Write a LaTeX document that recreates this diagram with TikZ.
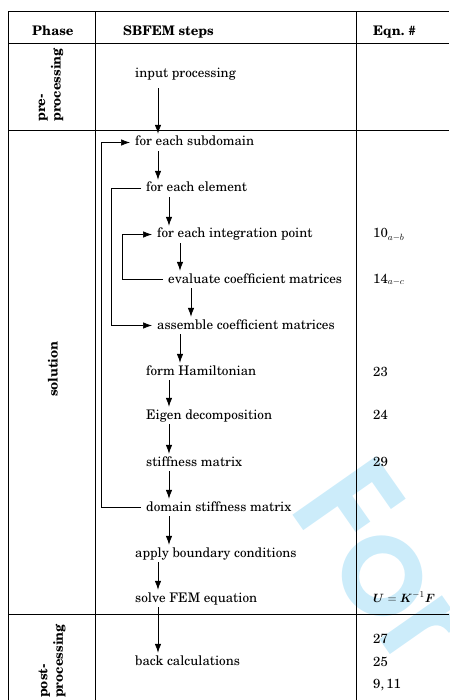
\documentclass[tikz,border=0pt]{standalone}
\usepackage[T1]{fontenc}
\usepackage{newcent}
\usepackage{amsmath}
\usepackage{bm}
\usepackage{tikz}
\usetikzlibrary{arrows.meta,positioning,calc}
\definecolor{wmark}{RGB}{204,236,250}
\newcommand{\tabfont}{\fontsize{13.2}{15.5}\selectfont}

\tikzset{
  stepnode/.style={anchor=base west, inner xsep=5pt, inner ysep=0pt, text height=12pt, text depth=5pt},
  eqnnode/.style={anchor=base west, inner sep=0pt},
  headnode/.style={anchor=base west, inner sep=0pt, font=\tabfont\bfseries},
  phasenode/.style={rotate=90, inner sep=0pt, align=left, font=\tabfont\bfseries},
  grid line/.style={line width=1pt},
}

\begin{document}
\begin{tikzpicture}[x=1pt,y=-1pt,>={Latex[length=9pt,width=6.5pt]},font=\tabfont]
\useasboundingbox (0,0) rectangle (449,700);
\clip (0,0) rectangle (449,700);
% watermark behind everything
\node[text=wmark, font=\fontsize{138}{138}\sffamily\bfseries, rotate=-55, anchor=base west, inner sep=0pt] (wm) at (287,507) {For};

% table rules
\draw[grid line] (8,12) -- (449,12);
\draw[grid line] (8,44) -- (449,44);
\draw[grid line] (8,131) -- (449,131);
\draw[grid line] (8,614) -- (449,614);
\foreach \x in {8,95,356} \draw[grid line] (\x,12) -- (\x,700);

% header
\node[headnode] (hphase) at (32,36) {Phase};
\node[headnode] (hsteps) at (123,36) {SBFEM steps};
\node[headnode] (heqn) at (373,36) {Eqn.~\#};

% phases
\node[phasenode, anchor=west] (pre) at (51,122) {pre-\\processing};
\node[phasenode] (sol) at (53,369) {solution};
\node[phasenode, anchor=west] (post) at (52,698) {post-\\processing};

% steps
\node[stepnode] (ip) at (130,78) {input processing};
\node[stepnode] (sub) at (130,146) {for each subdomain};
\node[stepnode] (ele) at (141,192) {for each element};
\node[stepnode] (int) at (152,238) {for each integration point};
\node[stepnode] (ev) at (163,283) {evaluate coefficient matrices};
\node[stepnode] (asm) at (152,329) {assemble coefficient matrices};
\node[stepnode] (ham) at (141,375) {form Hamiltonian};
\node[stepnode] (eig) at (141,419) {Eigen decomposition};
\node[stepnode] (stf) at (141,466) {stiffness matrix};
\node[stepnode] (dom) at (141,511) {domain stiffness matrix};
\node[stepnode] (bc) at (130,557) {apply boundary conditions};
\node[stepnode] (fem) at (130,602) {solve FEM equation};
\node[stepnode] (back) at (130,665) {back calculations};

% equation numbers
\node[eqnnode] (e10) at (373,238) {10$_{a-b}$};
\node[eqnnode] (e14) at (373,283) {14$_{a-c}$};
\node[eqnnode] (e23) at (373,376) {23};
\node[eqnnode] (e24) at (373,419) {24};
\node[eqnnode] (e29) at (373,466) {29};
\node[eqnnode] (eU) at (373,602) {$\bm{U}=\bm{K}^{-1}\bm{F}$};
\node[eqnnode] (e27) at (373,643) {27};
\node[eqnnode] (e25) at (373,666) {25};
\node[eqnnode] (e9) at (373,688) {9,\,11};

% flow
\begin{scope}[line width=0.7pt]
\path (ip.south west) ++(28pt,0) coordinate (src);
\draw[->, shorten <=5pt] (src) -- (src |- sub.north);
\foreach \a/\b in {sub/ele, ele/int, int/ev, ev/asm, asm/ham, ham/eig, eig/stf, stf/dom, dom/bc, bc/fem, fem/back} {
  \path (\a.south west) ++(28pt,0) coordinate (src);
  \draw[->] (src) -- (src |- \b.north);
}
% loops
\draw[->] (dom.west) -- ++(-40pt,0) |- (sub.west);
\draw[->] (ele.west) -- ++(-30pt,0) |- (asm.west);
\draw[->] (ev.west) -- ++(-41pt,0) |- (int.west);
\end{scope}
\end{tikzpicture}
\end{document}
